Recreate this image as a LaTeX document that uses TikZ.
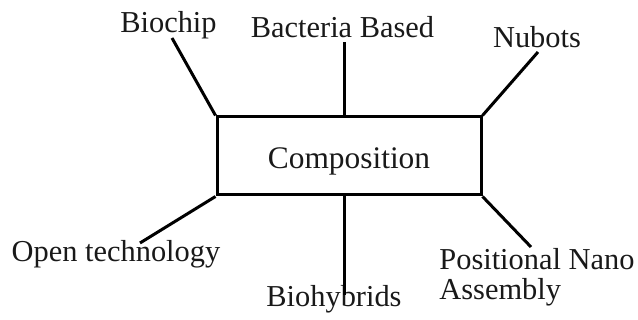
\documentclass[tikz,border=0pt]{standalone}
\usepackage{fontspec}
\setmainfont{Liberation Serif}
\begin{document}
\begin{tikzpicture}[x=0.5pt,y=-0.5pt,
  lbl/.style={inner sep=0pt,font=\fontsize{15.2}{17}\selectfont,text=black!90},
  conn/.style={line width=1.5pt,black,line cap=butt},
  boxnode/.style={draw,line width=1.5pt,minimum width=132pt,minimum height=39pt,inner sep=0pt}]
\useasboundingbox (0,0) rectangle (638,320);
\node[boxnode] (comp) at (349,156) {};
\node[lbl,anchor=base,font=\fontsize{15.7}{17}\selectfont] (comptext) at (349,169) {Composition};
\node[lbl,anchor=base] (biochip) at (168.5,33) {Biochip};
\node[lbl,anchor=base] (bact) at (342.5,38) {Bacteria Based};
\node[lbl,anchor=base] (nubots) at (537,48) {Nubots};
\node[lbl,anchor=base] (open) at (116,262) {Open technology};
\node[lbl,anchor=base] (biohyb) at (334,307) {Biohybrids};
\node[lbl,anchor=base west] (posn) at (439,270) {Positional Nano};
\node[lbl,anchor=base west] (assem) at (439,300) {Assembly};
\coordinate (e1) at (172,38);
\coordinate (e2) at (344,42);
\coordinate (e3) at (538,52);
\coordinate (e4) at (140,243);
\coordinate (e5) at (344,295);
\coordinate (e6) at (531,247);
\draw[conn] (comp.north west) -- (e1);
\draw[conn] (comp.north -| e2) -- (e2);
\draw[conn] (comp.north east) -- (e3);
\draw[conn] (comp.south west) -- (e4);
\draw[conn] (comp.south -| e5) -- (e5);
\draw[conn] (comp.south east) -- (e6);
\end{tikzpicture}
\end{document}
